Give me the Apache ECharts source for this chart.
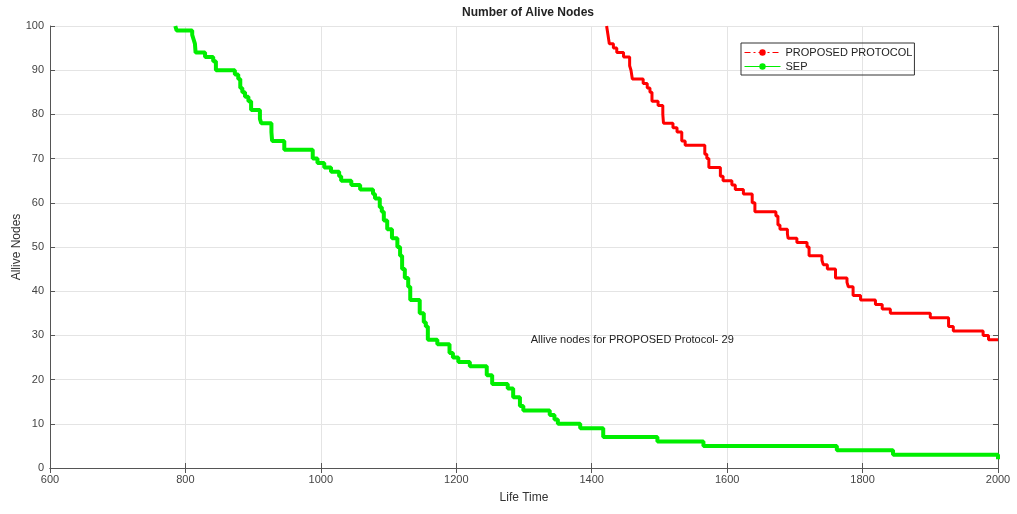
<!DOCTYPE html>
<html>
<head>
<meta charset="utf-8">
<script src="https://cdn.jsdelivr.net/npm/echarts@6/dist/echarts.min.js"></script>
<style>
  html, body { margin: 0; padding: 0; background: #fff; }
  #chart { width: 1017px; height: 514px; }
</style>
</head>
<body>
<div id="chart"></div>
<script>
// SEP: round at which each alive-node level starts
const sepTime  = [785, 787, 810, 812, 814, 815, 829, 841, 845, 873, 878, 881, 884, 888, 893, 897, 910, 912, 927, 928, 946, 988, 995, 1005, 1015, 1027, 1030, 1045, 1058, 1077, 1080, 1087, 1090, 1093, 1098, 1105, 1113, 1117, 1120, 1124, 1129, 1132, 1146, 1152, 1155, 1158, 1172, 1190, 1195, 1203, 1220, 1245, 1253, 1276, 1284, 1294, 1299, 1338, 1345, 1350, 1383, 1417, 1497, 1565, 1762, 1845, 2000];
const sepAlive = [100, 99, 98, 97, 96, 94, 93, 92, 90, 89, 88, 86, 85, 84, 83, 81, 79, 78, 76, 74, 72, 70, 69, 68, 67, 66, 65, 64, 63, 62, 61, 59, 58, 56, 54, 52, 50, 48, 45, 43, 41, 38, 35, 33, 32, 29, 28, 26, 25, 24, 23, 21, 19, 18, 16, 14, 13, 12, 11, 10, 9, 7, 6, 5, 4, 3, 2];

// proposed protocol
const protoTime  = [1422, 1424, 1426, 1432, 1437, 1447, 1456, 1458, 1460, 1476, 1482, 1486, 1489, 1498, 1505, 1506, 1520, 1526, 1533, 1538, 1567, 1570, 1573, 1590, 1594, 1607, 1612, 1624, 1637, 1641, 1672, 1675, 1678, 1689, 1690, 1703, 1718, 1721, 1740, 1742, 1748, 1760, 1777, 1779, 1786, 1797, 1819, 1829, 1841, 1900, 1927, 1934, 1978, 1986, 2000];
const protoAlive = [100, 98, 96, 95, 94, 93, 91, 90, 88, 87, 86, 85, 83, 82, 80, 78, 77, 76, 74, 73, 71, 70, 68, 66, 65, 64, 63, 62, 60, 58, 57, 55, 54, 53, 52, 51, 50, 48, 47, 46, 45, 43, 42, 41, 39, 38, 37, 36, 35, 34, 32, 31, 30, 29, 29];

const noteText = 'Allive nodes for PROPOSED Protocol- 29';
const notePos = [1310, 29];

const zip = (xs, ys) => xs.map((x, i) => [x, ys[i]]);

const font = 'Liberation Sans, Arial, sans-serif';
const axisCol = '#555';
const labelCol = '#444';

const chart = echarts.init(document.getElementById('chart'));

const hiddenAxis = {
  axisLine: { show: true, lineStyle: { color: axisCol } },
  axisTick: { show: true, inside: true, length: 5, lineStyle: { color: axisCol } },
  axisLabel: { show: false },
  splitLine: { show: false }
};

const option = {
  animation: false,
  backgroundColor: '#fff',
  title: {
    text: 'Number of Alive Nodes',
    left: 523, top: 2, textAlign: 'center',
    textStyle: { fontFamily: font, fontSize: 12, fontWeight: 'bold', color: '#222' }
  },
  legend: {
    orient: 'vertical',
    left: 741, top: 43,
    itemWidth: 36, itemHeight: 8, itemGap: 3,
    padding: [4, 2, 3, 3],
    borderColor: '#333', borderWidth: 1,
    textStyle: { fontFamily: font, fontSize: 11, color: '#222' },
    data: [
      { name: 'PROPOSED PROTOCOL', lineStyle: { type: [6, 3, 2, 3], width: 1 } },
      { name: 'SEP', lineStyle: { width: 1 } }
    ]
  },
  grid: { left: 50, right: 19, top: 26, bottom: 46, outerBoundsMode: 'none', containLabel: false },
  xAxis: [
    {
      type: 'value', min: 600, max: 2000, interval: 200,
      name: 'Life Time', nameLocation: 'middle', nameGap: 24, nameMoveOverlap: false,
      nameTextStyle: { fontFamily: font, fontSize: 12, color: '#333' },
      axisLine: { show: true, onZero: false, lineStyle: { color: axisCol } },
      axisTick: { show: true, inside: true, length: 5, lineStyle: { color: axisCol } },
      axisLabel: { fontFamily: font, fontSize: 11, color: labelCol, margin: 6, formatter: v => String(v) },
      splitLine: { show: true, lineStyle: { color: '#e4e4e4' } }
    },
    Object.assign({ type: 'value', min: 600, max: 2000, interval: 200, position: 'top' }, hiddenAxis)
  ],
  yAxis: [
    {
      type: 'value', min: 0, max: 100, interval: 10,
      name: 'Allive Nodes', nameLocation: 'middle', nameGap: 27, nameMoveOverlap: false,
      nameTextStyle: { fontFamily: font, fontSize: 12, color: '#333' },
      axisLine: { show: true, lineStyle: { color: axisCol } },
      axisTick: { show: true, inside: true, length: 5, lineStyle: { color: axisCol } },
      axisLabel: { fontFamily: font, fontSize: 11, color: labelCol, margin: 6 },
      splitLine: { show: true, lineStyle: { color: '#e4e4e4' } }
    },
    Object.assign({ type: 'value', min: 0, max: 100, interval: 10, position: 'right' }, hiddenAxis)
  ],
  series: [
    {
      name: 'PROPOSED PROTOCOL',
      type: 'line', step: 'end',
      data: zip(protoTime, protoAlive),
      symbol: 'circle', symbolSize: 4, showSymbol: false,
      lineStyle: { color: '#ff0000', width: 3 },
      itemStyle: { color: '#ff0000' },
      markPoint: {
        symbol: 'circle', symbolSize: 0,
        data: [{ coord: notePos }],
        label: {
          show: true, position: 'right', distance: 0,
          formatter: noteText,
          fontFamily: font, fontSize: 11, color: '#222'
        }
      }
    },
    {
      name: 'SEP',
      type: 'line', step: 'end',
      data: zip(sepTime, sepAlive),
      symbol: 'circle', symbolSize: 4, showSymbol: false,
      lineStyle: { color: '#00ee00', width: 4 },
      itemStyle: { color: '#00ee00' }
    }
  ]
};

chart.setOption(option);
</script>
</body>
</html>
